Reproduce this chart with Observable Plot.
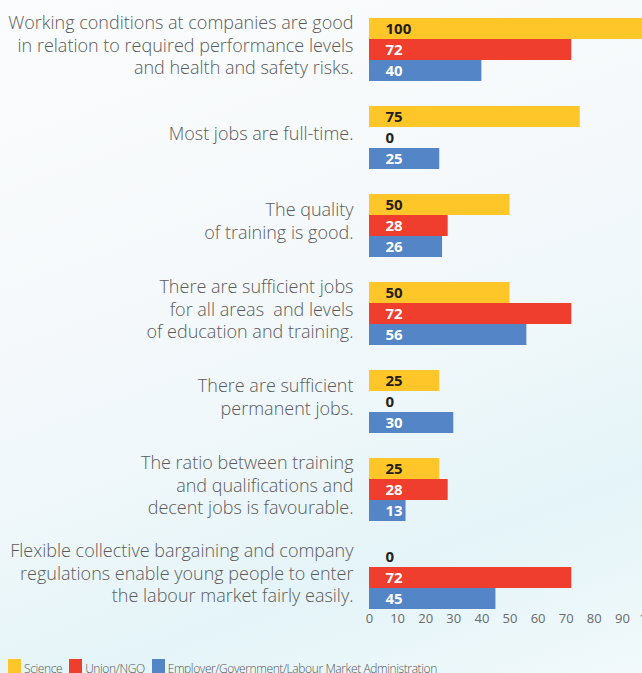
<!DOCTYPE html>
<html>
<head>
<meta charset="utf-8">
<script src="https://cdn.jsdelivr.net/npm/d3@7"></script>
<script src="https://cdn.jsdelivr.net/npm/@observablehq/plot@0.6"></script>
<style>
  html, body { margin: 0; padding: 0; }
  body {
    width: 642px; height: 673px; overflow: hidden;
    font-family: "Open Sans", "Noto Sans", sans-serif;
    background: linear-gradient(160deg, #fafcfd 0%, #f6f9fb 35%, #eef7fa 60%, #e4f4f8 78%, #f1f9fb 100%);
  }
  #legend { display: flex; align-items: flex-start; margin: 13px 0 0 8px; font-size: 12px; font-weight: 300; letter-spacing: -0.4px; color: #555555; line-height: 14px; }
  #legend .item { display: flex; align-items: flex-start; margin-right: 7px; }
  #legend .sw { width: 13px; height: 16px; margin-right: 3px; }
  #legend span.t { padding-top: 3px; }
</style>
</head>
<body>
<div id="chart"></div>
<div id="legend"></div>
<script>
const categories = [
  "Working conditions at companies are good\nin relation to required performance levels\nand health and safety risks.",
  "Most jobs are full-time.",
  "The quality\nof training is good.",
  "There are sufficient jobs\nfor all areas  and levels\nof education and training.",
  "There are sufficient\npermanent jobs.",
  "The ratio between training\nand qualifications and\ndecent jobs is favourable.",
  "Flexible collective bargaining and company\nregulations enable young people to enter\nthe labour market fairly easily."
];
const seriesNames = ["Science", "Union/NGO", "Employer/Government/Labour Market Administration"];
const science = [100, 75, 50, 50, 25, 25, 0];
const unionNgo = [72, 0, 28, 72, 0, 28, 72];
const employer = [40, 25, 26, 56, 30, 13, 45];
const colors = ["#FFC629", "#EF3E2D", "#5485C6"];
const xTicks = [0, 10, 20, 30, 40, 50, 60, 70, 80, 90, 100];

const seriesValues = [science, unionNgo, employer];
const rows = [];
categories.forEach((c, i) => {
  seriesNames.forEach((s, j) => {
    rows.push({category: c, series: s, value: seriesValues[j][i], idx: j});
  });
});

const chart = Plot.plot({
  width: 642,
  height: 646,
  marginTop: 15,
  marginBottom: 35,
  marginLeft: 369,
  marginRight: 0,
  style: {background: "transparent", fontFamily: "'Open Sans', 'Noto Sans', sans-serif", color: "#595959", overflow: "visible"},
  x: {domain: [0, 100], range: [369, 650]},
  y: {domain: seriesNames, padding: 0, axis: null},
  fy: {domain: categories, paddingInner: 0.27, paddingOuter: 0},
  color: {domain: seriesNames, range: colors},
  marks: [
    Plot.barX(rows, {fy: "category", y: "series", x: "value", fill: "series"}),
    Plot.text(rows, {
      fy: "category", y: "series", x: 0,
      text: d => String(d.value),
      dx: 16, textAnchor: "start",
      fill: d => (d.idx === 0 || d.value === 0) ? "#231f20" : "#ffffff",
      fontWeight: "bold", fontSize: 15
    }),
    Plot.axisFy({anchor: "left", tickSize: 0, tickPadding: 16, fontSize: 18, fontWeight: 300, lineHeight: 1.25, dy: -5, label: null, fill: "#5a5a5a"}),
    Plot.axisX({ticks: xTicks, anchor: "bottom", tickSize: 0, tickPadding: 4, fontSize: 13, label: null, fill: "#6a6a6a"})
  ]
});
document.getElementById("chart").appendChild(chart);

const legend = document.getElementById("legend");
seriesNames.forEach((s, j) => {
  const item = document.createElement("div");
  item.className = "item";
  const sw = document.createElement("div");
  sw.className = "sw";
  sw.style.background = colors[j];
  const t = document.createElement("span");
  t.className = "t";
  t.textContent = s;
  item.appendChild(sw);
  item.appendChild(t);
  legend.appendChild(item);
});
</script>
</body>
</html>
